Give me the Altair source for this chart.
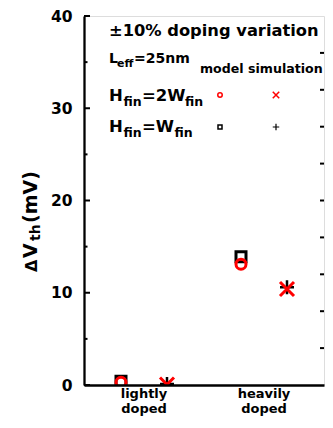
import altair as alt
import pandas as pd

# ---- data ----
categories = ["lightly doped", "heavily doped"]
methods = ["model", "simulation"]
model_h2w = [0.3, 13.1]    # red open circle
model_h1w = [0.4, 13.9]    # black open square
sim_h2w = [0.05, 10.4]     # red x
sim_h1w = [0.1, 10.6]      # black +

y_labels = [0, 10, 20, 30, 40]
y_minor = [5, 15, 25, 35]
right_ticks = [4, 8, 12, 16, 20, 24, 28, 32, 36]

rows = []
for i, c in enumerate(categories):
    rows.append({"category": c, "method": "model", "series": "H2W", "value": model_h2w[i]})
    rows.append({"category": c, "method": "model", "series": "H1W", "value": model_h1w[i]})
    rows.append({"category": c, "method": "simulation", "series": "H2W", "value": sim_h2w[i]})
    rows.append({"category": c, "method": "simulation", "series": "H1W", "value": sim_h1w[i]})
df = pd.DataFrame(rows)

W, H = 240, 369
FONT = "DejaVu Sans"
RED = "#ff0000"
XPATH = "M-1,-1L1,1M-1,1L1,-1"
PPATH = "M-1,0L1,0M0,-1L0,1"

yscale = alt.Scale(domain=[0, 40], nice=False, zero=False)
yaxis = alt.Axis(
    values=y_labels, labelFont=FONT, labelFontWeight="bold", labelFontSize=15.5,
    labelColor="black", labelPadding=12, ticks=False, tickSize=0, domain=True,
    domainColor="black", domainWidth=2.3, grid=False, zindex=1,
)

xenc = alt.X(
    "category:N", sort=categories, title=None,
    scale=alt.Scale(paddingInner=0, paddingOuter=0),
    axis=alt.Axis(
        labelExpr="split(datum.label, ' ')", labelFont=FONT, labelFontWeight="bold",
        labelFontSize=13, labelColor="black", labelPadding=2, labelLineHeight=15.5,
        labelAngle=0, ticks=False, tickSize=0, domain=True, domainColor="black",
        domainWidth=2.3, grid=False, zindex=1,
    ),
)
xoff = alt.XOffset("method:N", sort=methods,
                   scale=alt.Scale(range=[37, 83], paddingInner=0, paddingOuter=0))
yenc = alt.Y("value:Q", scale=yscale, title=None, axis=yaxis)

base = alt.Chart(df)


def pts(method, series, **mk):
    return base.transform_filter(
        (alt.datum.method == method) & (alt.datum.series == series)
    ).mark_point(filled=False, clip=True, opacity=1, **mk).encode(x=xenc, xOffset=xoff, y=yenc)


p_square = pts("model", "H1W", shape="square", size=100, strokeWidth=3, color="black")
p_plus = pts("simulation", "H1W", shape=PPATH, size=196, strokeWidth=2.5, color="black")
p_circle = pts("model", "H2W", shape="circle", size=100, strokeWidth=3, color=RED)
p_x = pts("simulation", "H2W", shape=XPATH, size=196, strokeWidth=3, color=RED)


# inward ticks
def tick_layer(vals, x0, x1, sw):
    return alt.Chart(pd.DataFrame({"value": vals})).mark_rule(color="black", strokeWidth=sw).encode(
        y=alt.Y("value:Q", scale=yscale, title=None, axis=yaxis), x=alt.value(x0), x2=alt.value(x1)
    )


t_major = tick_layer(y_labels, 0, 6, 2)
t_minor = tick_layer(y_minor, 0, 3.5, 2)
t_right = tick_layer(right_ticks, W - 4, W, 2)

one = alt.Data(values=[{"a": 1}])


def txt(s, x, y, size, color="black", angle=0):
    kw = dict(text=s, align="left", baseline="alphabetic", font=FONT,
              fontWeight="bold", fontSize=size, color=color)
    if angle:
        kw["angle"] = angle
    return alt.Chart(one).mark_text(**kw).encode(x=alt.value(x), y=alt.value(y))


def sym(shape, x, y, size, color, sw):
    return alt.Chart(one).mark_point(shape=shape, size=size, filled=False, opacity=1,
                                     color=color, strokeWidth=sw).encode(
        x=alt.value(x), y=alt.value(y))


texts = [
    txt("±10% doping variation", 25, 20, 16.3),
    txt("L", 25, 47, 14),
    txt("eff", 33, 51, 11),
    txt("=25nm", 50, 47, 14),
    txt("model simulation", 116, 57, 12.6),
    txt("H", 25, 85, 16.5),
    txt("fin", 39.5, 90, 12.5),
    txt("=2W", 58, 85, 16.5),
    txt("fin", 101, 90, 12.5),
    txt("H", 25, 116, 16.5),
    txt("fin", 39.5, 121, 12.5),
    txt("=W", 58, 116, 16.5),
    txt("fin", 90.5, 121, 12.5),
    # y title
    txt("Δ", -47, 256, 16, angle=270),
    txt("V", -47, 242, 19, angle=270),
    txt("th", -44, 225, 14, angle=270),
    txt("(mV)", -47, 207, 19, angle=270),
]

legend_syms = [
    sym("circle", 136, 79, 20, RED, 1.5),
    sym(XPATH, 192, 79, 42, RED, 1.5),
    sym("square", 136, 111, 16, "black", 1.5),
    sym(PPATH, 192, 111, 42, "black", 1.2),
]

chart = alt.layer(
    p_square, p_plus, p_circle, p_x, t_major, t_minor, t_right, *texts, *legend_syms
).properties(
    width=W, height=H,
    padding={"left": 76, "top": 8, "right": 1, "bottom": 31},
    autosize=alt.AutoSizeParams(type="none"),
).configure_view(stroke="black", strokeWidth=2.3).configure(background="white")

chart.save("out.html", embed_options={"renderer": "svg", "actions": False})
